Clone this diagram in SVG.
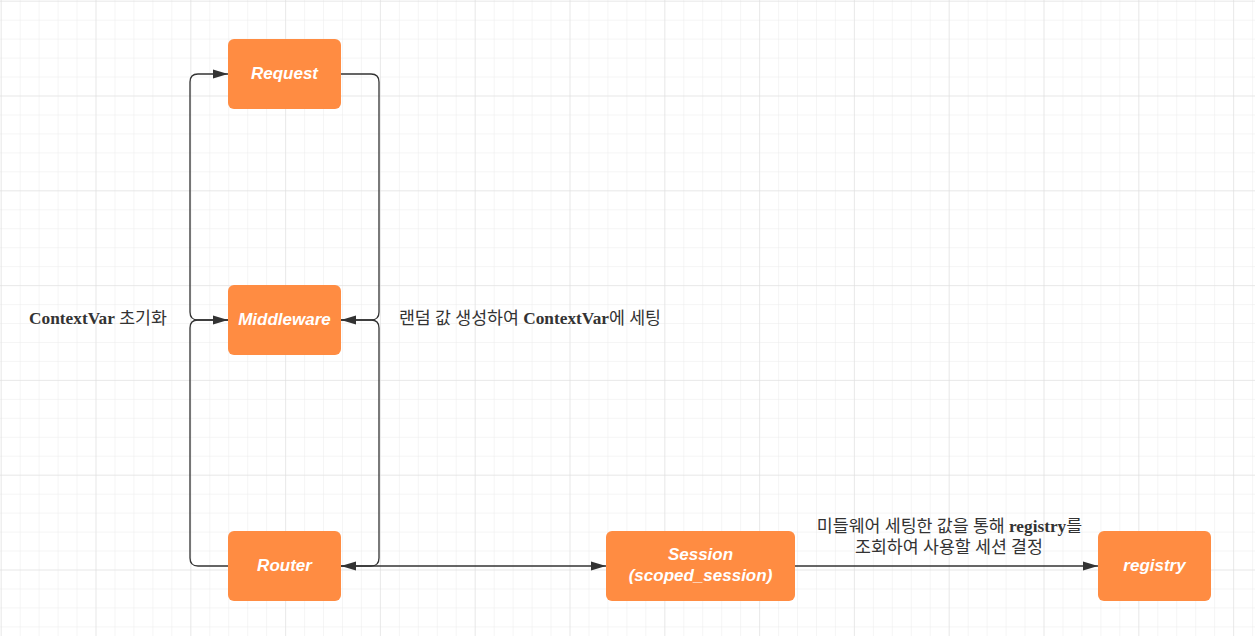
<svg xmlns="http://www.w3.org/2000/svg" width="1255" height="636" viewBox="0 0 1255 636">
<style>
.node rect{fill:#FF8C42;stroke:none}
.node text{fill:#ffffff;font-family:"Liberation Sans",Arial,sans-serif;font-size:17px;font-weight:bold;font-style:italic;text-anchor:middle;dominant-baseline:central}
.conn path{fill:none;stroke:#333333;stroke-width:1.3}
.lbl{fill:#333333;font-family:"Liberation Serif","Noto Sans CJK KR",serif;font-size:17.3px;text-anchor:middle;dominant-baseline:central}
.lbl .b{font-weight:bold}
</style>
<defs>
<pattern id="minor" width="18.96" height="18.96" patternUnits="userSpaceOnUse" x="0.7" y="0.7">
<path d="M0,0 H18.96 M0,0 V18.96" fill="none" stroke="#ececec" stroke-width="1"/>
</pattern>
<pattern id="major" width="94.8" height="94.8" patternUnits="userSpaceOnUse" x="0.7" y="0.7">
<path d="M0,0 H94.8 M0,0 V94.8" fill="none" stroke="#dedede" stroke-width="1"/>
</pattern>
<marker id="arr" markerUnits="userSpaceOnUse" markerWidth="16" markerHeight="10" refX="15" refY="5" orient="auto">
<path d="M0,0.5 L15,5 L0,9.5 Z" fill="#333333"/>
</marker>
</defs>
<rect width="1255" height="636" fill="#ffffff"/>
<rect width="1255" height="636" fill="url(#minor)"/>
<rect width="1255" height="636" fill="url(#major)"/>

<g id="connectors" class="conn">
<path d="M228,320 L198,320 Q190,320 190,312 L190,82 Q190,74 198,74 L228,74" marker-end="url(#arr)"/>
<path d="M228,566 L198,566 Q190,566 190,558 L190,328 Q190,320 198,320 L228,320" marker-end="url(#arr)"/>
<path d="M341,74 L371,74 Q379,74 379,82 L379,312 Q379,320 371,320 L341,320" marker-end="url(#arr)"/>
<path d="M341,320 L371,320 Q379,320 379,328 L379,558 Q379,566 371,566 L341,566" marker-end="url(#arr)"/>
<path d="M341,566 L606,566" marker-end="url(#arr)"/>
<path d="M795,566 L1098,566" marker-end="url(#arr)"/>
</g>

<g id="labels">
<text class="lbl" x="98" y="318"><tspan class="b">ContextVar</tspan> 초기화</text>
<text class="lbl" x="530" y="318">랜덤 값 생성하여 <tspan class="b">ContextVar</tspan>에 세팅</text>
<text class="lbl" x="949.5" y="526">미들웨어 세팅한 값을 통해 <tspan class="b">registry</tspan>를</text>
<text class="lbl" x="949" y="547">조회하여 사용할 세션 결정</text>
</g>

<g id="node-request" class="node">
<rect x="228" y="39" width="113" height="70" rx="6"/>
<text x="284.5" y="73">Request</text>
</g>
<g id="node-middleware" class="node">
<rect x="228" y="285" width="113" height="70" rx="6"/>
<text x="284.5" y="319">Middleware</text>
</g>
<g id="node-router" class="node">
<rect x="228" y="531" width="113" height="70" rx="6"/>
<text x="284.5" y="565">Router</text>
</g>
<g id="node-session" class="node">
<rect x="606" y="531" width="189" height="70" rx="6"/>
<text x="700.5" y="554">Session</text>
<text x="700.5" y="575">(scoped_session)</text>
</g>
<g id="node-registry" class="node">
<rect x="1098" y="531" width="113" height="70" rx="6"/>
<text x="1154.5" y="565">registry</text>
</g>
</svg>
